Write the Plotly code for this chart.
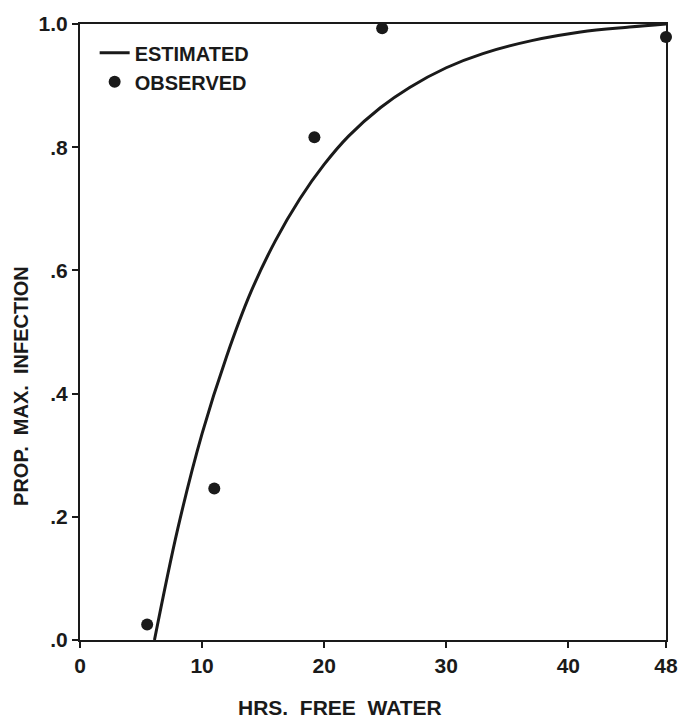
import plotly.graph_objects as go

# Estimated curve
est_x = [6.1, 8.0, 10.0, 12.0, 14.0, 16.0, 18.0, 20.0, 22.0, 24.6, 27.0, 30.0, 33.0, 37.0, 41.0, 45.0, 48.0]
est_y = [0.0, 0.18, 0.335, 0.46, 0.565, 0.648, 0.716, 0.772, 0.818, 0.864, 0.897, 0.929, 0.952, 0.973, 0.987, 0.995, 1.0]

# Observed points
obs_x = [5.5, 11.0, 19.2, 24.75, 48.0]
obs_y = [0.025, 0.246, 0.816, 0.993, 0.979]

x_ticks = [0, 10, 20, 30, 40, 48]
x_ticktext = ["0", "10", "20", "30", "40", "48"]
y_ticks = [0.0, 0.2, 0.4, 0.6, 0.8, 1.0]
y_ticktext = [".0", ".2", ".4", ".6", ".8", "1.0"]

INK = "#1a1a1a"
FONT = "Liberation Sans"

fig = go.Figure()
fig.add_trace(go.Scatter(x=est_x, y=est_y, mode="lines", name="ESTIMATED",
                         line=dict(color=INK, width=3, shape="spline", smoothing=1.0)))
fig.add_trace(go.Scatter(x=obs_x, y=obs_y, mode="markers", name="OBSERVED",
                         marker=dict(color=INK, size=12), cliponaxis=False))

axis_common = dict(showgrid=False, zeroline=False, showline=True, linecolor=INK,
                   linewidth=2, mirror=True, ticks="outside", ticklen=6,
                   tickwidth=2, tickcolor=INK,
                   tickfont=dict(family=FONT, size=21, color=INK, weight="bold"))

fig.update_xaxes(range=[0, 48], tickvals=x_ticks, ticktext=x_ticktext, **axis_common)
fig.update_yaxes(range=[0, 1.0], tickvals=y_ticks, ticktext=y_ticktext, **axis_common)

fig.update_layout(
    width=690, height=718,
    margin=dict(l=80, r=13, t=22, b=78),
    paper_bgcolor="white", plot_bgcolor="white",
    font=dict(family=FONT, color=INK),
    showlegend=True,
    legend=dict(x=0.025, y=0.985, xanchor="left", yanchor="top",
                bgcolor="rgba(0,0,0,0)",
                font=dict(family=FONT, size=20, color=INK, weight="bold"),
                itemwidth=30, tracegroupgap=8),
    annotations=[
        dict(text="HRS.  FREE  WATER", xref="paper", yref="paper",
             x=(345 - 80) / 597, y=(640 - 708) / 618, xanchor="center", yanchor="middle",
             showarrow=False, font=dict(family=FONT, size=21, color=INK, weight="bold")),
        dict(text="PROP.  MAX.  INFECTION", xref="paper", yref="paper",
             x=(20 - 80) / 597, y=(640 - 385) / 618, xanchor="center", yanchor="middle",
             textangle=-90, showarrow=False,
             font=dict(family=FONT, size=20, color=INK, weight="bold")),
    ],
)

fig.write_html("out.html")
